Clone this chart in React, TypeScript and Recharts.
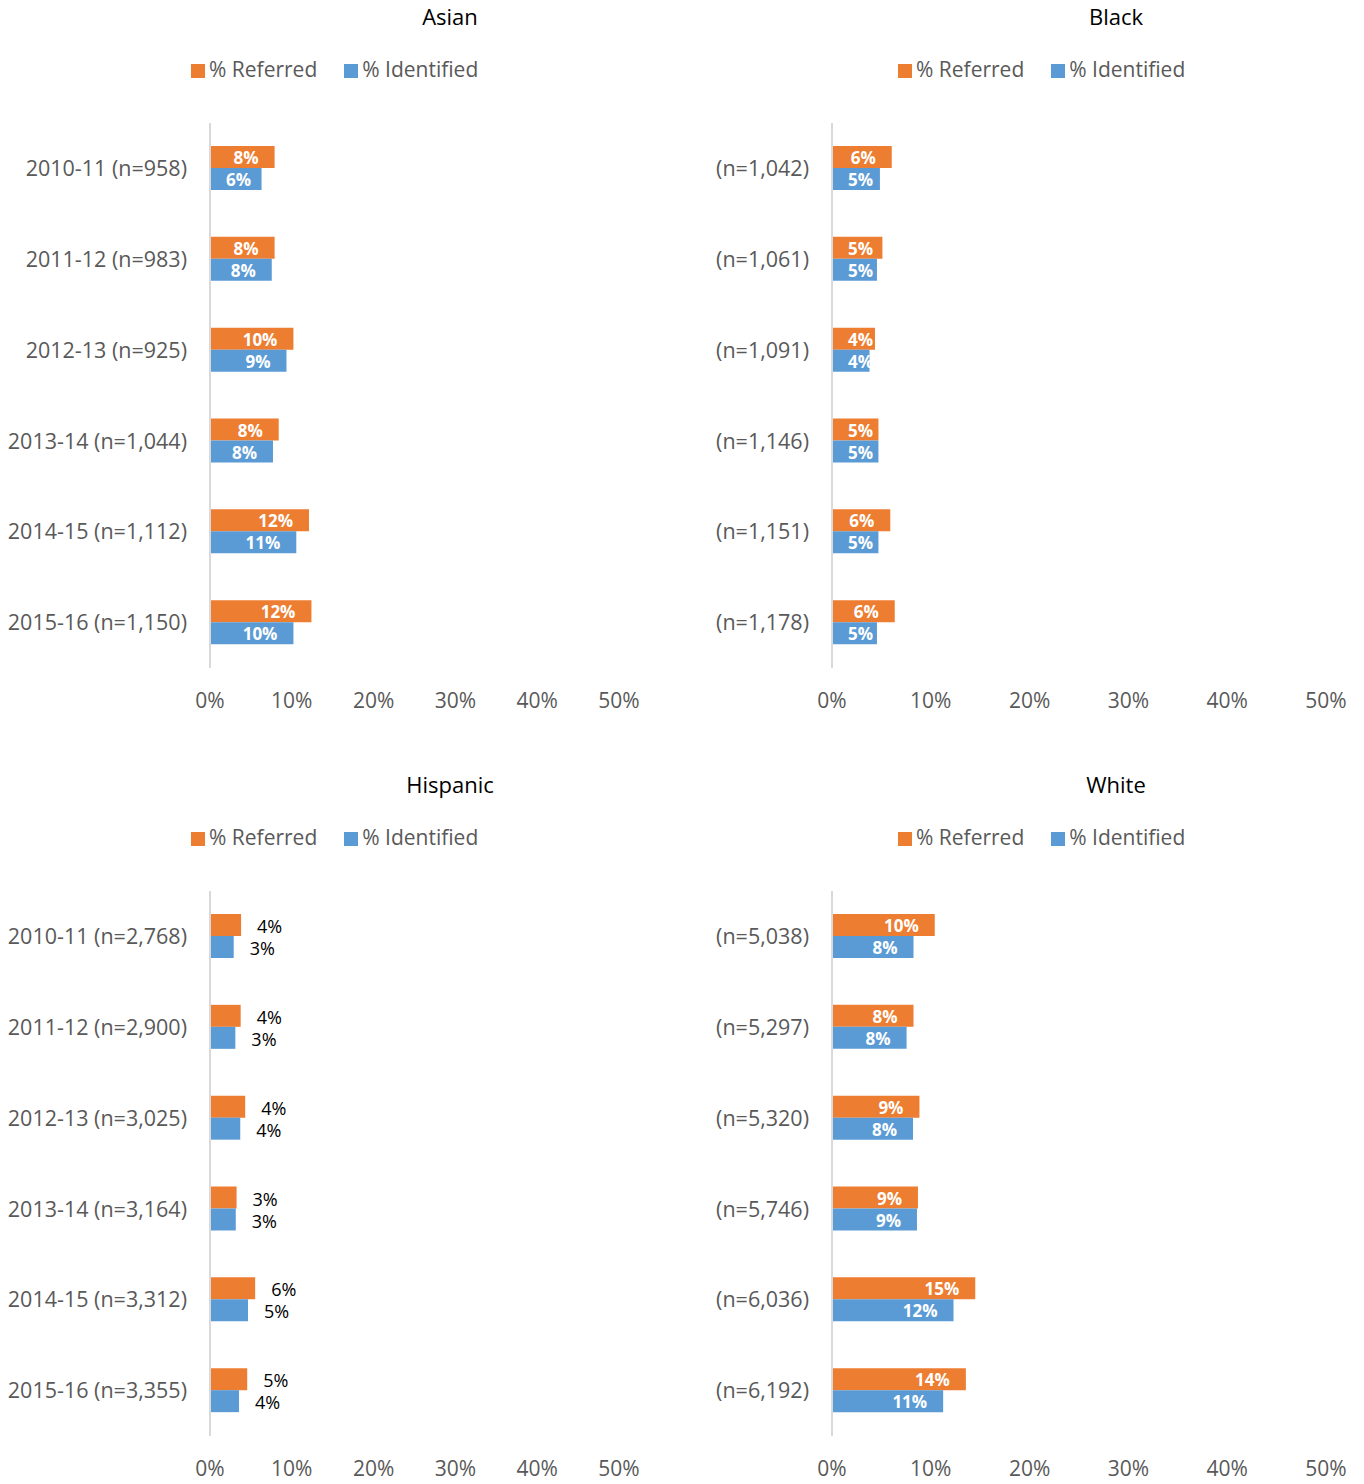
import React from 'react';
import { BarChart, Bar, XAxis, YAxis, LabelList } from 'recharts';

const years = ['2010-11', '2011-12', '2012-13', '2013-14', '2014-15', '2015-16'];
const xTicks = [0, 10, 20, 30, 40, 50];

const asianN = ['958', '983', '925', '1,044', '1,112', '1,150'];
const asianReferred = [7.9, 7.9, 10.2, 8.4, 12.1, 12.4];
const asianIdentified = [6.3, 7.55, 9.35, 7.7, 10.55, 10.2];

const blackN = ['1,042', '1,061', '1,091', '1,146', '1,151', '1,178'];
const blackReferred = [6.05, 5.1, 4.35, 4.7, 5.9, 6.35];
const blackIdentified = [4.85, 4.55, 3.8, 4.7, 4.7, 4.55];

const hispanicN = ['2,768', '2,900', '3,025', '3,164', '3,312', '3,355'];
const hispanicReferred = [3.8, 3.75, 4.3, 3.25, 5.52, 4.55];
const hispanicIdentified = [2.9, 3.1, 3.7, 3.15, 4.65, 3.55];

const whiteN = ['5,038', '5,297', '5,320', '5,746', '6,036', '6,192'];
const whiteReferred = [10.4, 8.25, 8.85, 8.7, 14.5, 13.55];
const whiteIdentified = [8.25, 7.55, 8.2, 8.6, 12.3, 11.25];

const FONT = '"Open Sans", "Noto Sans", sans-serif';
const ORANGE = '#ED7D31';
const BLUE = '#5B9BD5';
const GREY = '#595959';

let ctx: CanvasRenderingContext2D | null = null;
const textWidth = (t: string, font: string) => {
  if (!ctx) ctx = document.createElement('canvas').getContext('2d');
  if (!ctx) return t.length * 10;
  ctx.font = font;
  return ctx.measureText(t).width;
};

const box = (props: any) => {
  const vb = props.viewBox || {};
  return {
    x: Number(vb.x ?? props.x),
    y: Number(vb.y ?? props.y),
    width: Number(vb.width ?? props.width),
    height: Number(vb.height ?? props.height),
  };
};

// white bold label inside the bar end, but never left of the axis + 16
const InsideLabel = (props: any) => {
  const { x, y, width, height } = box(props);
  const text = `${Math.round(Number(props.value))}%`;
  const w = textWidth(text, `bold 17px "Open Sans"`);
  const sx = Math.max(x + 16, x + width - 16 - w);
  return (
    <text x={sx} y={y + height / 2 + 7} fill="#fff" fontWeight="bold" fontSize={17} fontFamily={FONT}>
      {text}
    </text>
  );
};

// dark label outside the bar end
const OutsideLabel = (props: any) => {
  const { x, y, width, height } = box(props);
  const text = `${Math.round(Number(props.value))}%`;
  return (
    <text x={x + width + 16} y={y + height / 2 + 8} fill="#000" fontSize={18} fontFamily={FONT}>
      {text}
    </text>
  );
};

interface PanelProps {
  title: string;
  top: number;
  titleX: number;
  legendX: number;
  chartLeft: number;
  chartWidth: number;
  marginRight: number;
  cats: string[];
  referred: number[];
  identified: number[];
  outside?: boolean;
}

const Panel: React.FC<PanelProps> = ({
  title, top, titleX, legendX, chartLeft, chartWidth, marginRight, cats, referred, identified, outside,
}) => {
  const data = cats.map((c, i) => ({ cat: c, referred: referred[i], identified: identified[i] }));
  const Lbl = outside ? OutsideLabel : InsideLabel;
  return (
    <div style={{ position: 'absolute', left: 0, top, width: 1364, height: 768 }}>
      <div
        style={{
          position: 'absolute', left: titleX - 150, width: 300, top: 5, textAlign: 'center',
          fontSize: 22, lineHeight: '22px', color: '#000',
        }}
      >
        {title}
      </div>
      <div
        style={{
          position: 'absolute', left: legendX, top: 59, display: 'flex', alignItems: 'flex-start',
          fontSize: 21, lineHeight: '21px', color: GREY, whiteSpace: 'nowrap',
        }}
      >
        <span style={{ width: 14, height: 14, background: ORANGE, marginTop: 5, marginRight: 4 }} />
        <span>% Referred</span>
        <span style={{ width: 14, height: 14, background: BLUE, marginTop: 5, marginRight: 4, marginLeft: 27 }} />
        <span>% Identified</span>
      </div>
      <div style={{ position: 'absolute', left: chartLeft, top: 0 }}>
        <BarChart
          layout="vertical"
          width={chartWidth}
          height={718}
          data={data}
          margin={{ top: 123, right: marginRight, bottom: 0, left: 0 }}
          barGap={0}
        >
          <XAxis
            type="number"
            domain={[0, 50]}
            ticks={xTicks}
            interval={0}
            axisLine={false}
            tickLine={false}
            height={50}
            tickMargin={19}
            tickFormatter={(v: number) => `${v}%`}
            tick={{ fill: GREY, fontSize: 21, fontFamily: FONT }}
          />
          <YAxis
            type="category"
            dataKey="cat"
            width={210}
            axisLine={{ stroke: '#d9d9d9', strokeWidth: 2 }}
            tickLine={false}
            tickMargin={17}
            interval={0}
            tick={{ fill: GREY, fontSize: 21.5, fontFamily: FONT }}
          />
          <Bar dataKey="referred" name="% Referred" fill={ORANGE} barSize={22} isAnimationActive={false}>
            <LabelList dataKey="referred" content={Lbl} />
          </Bar>
          <Bar dataKey="identified" name="% Identified" fill={BLUE} barSize={22} isAnimationActive={false}>
            <LabelList dataKey="identified" content={Lbl} />
          </Bar>
        </BarChart>
      </div>
    </div>
  );
};

const withYear = (ns: string[]) => ns.map((n, i) => `${years[i]} (n=${n})`);
const nOnly = (ns: string[]) => ns.map((n) => `(n=${n})`);

export default function App() {
  return (
    <div
      style={{
        position: 'absolute', left: 0, top: 0, width: 1364, height: 1484, background: '#fff',
        fontFamily: FONT, overflow: 'hidden',
      }}
    >
      <Panel
        title="Asian" top={0} titleX={450} legendX={191}
        chartLeft={0} chartWidth={680} marginRight={61}
        cats={withYear(asianN)} referred={asianReferred} identified={asianIdentified}
      />
      <Panel
        title="Black" top={0} titleX={1116} legendX={898}
        chartLeft={622} chartWidth={742} marginRight={38}
        cats={nOnly(blackN)} referred={blackReferred} identified={blackIdentified}
      />
      <Panel
        title="Hispanic" top={768} titleX={450} legendX={191}
        chartLeft={0} chartWidth={680} marginRight={61}
        cats={withYear(hispanicN)} referred={hispanicReferred} identified={hispanicIdentified} outside
      />
      <Panel
        title="White" top={768} titleX={1116} legendX={898}
        chartLeft={622} chartWidth={742} marginRight={38}
        cats={nOnly(whiteN)} referred={whiteReferred} identified={whiteIdentified}
      />
    </div>
  );
}
